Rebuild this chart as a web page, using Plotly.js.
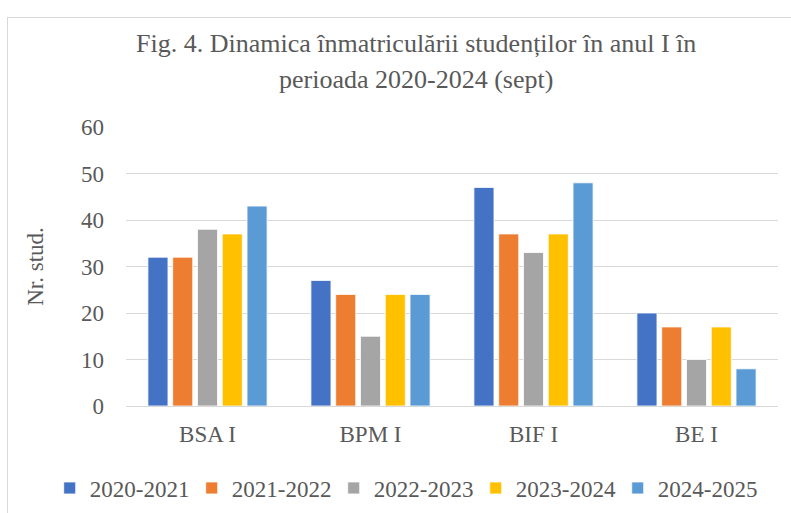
<!DOCTYPE html>
<html>
<head>
<meta charset="utf-8">
<script src="https://cdn.plot.ly/plotly-3.0.1.min.js"></script>
<style>
html,body{margin:0;padding:0;background:#fff;overflow:hidden;}
#chart{width:791px;height:513px;}
#frame{position:absolute;left:7px;top:17px;width:800px;height:520px;border:1px solid #d9d9d9;pointer-events:none;}
</style>
</head>
<body>
<div id="chart"></div>
<div id="frame"></div>
<script>
const categories = ["BSA I", "BPM I", "BIF I", "BE I"];
const seriesNames = ["2020-2021", "2021-2022", "2022-2023", "2023-2024", "2024-2025"];
const s2020 = [32, 27, 47, 20];
const s2021 = [32, 24, 37, 17];
const s2022 = [38, 15, 33, 10];
const s2023 = [37, 24, 37, 17];
const s2024 = [43, 24, 48, 8];
const yTicks = [0, 10, 20, 30, 40, 50, 60];

const colors = ["#4472C4", "#ED7D31", "#A5A5A5", "#FFC000", "#5B9BD5"];
const allSeries = [s2020, s2021, s2022, s2023, s2024];
const font = "Liberation Serif, Times New Roman, serif";
const grey = "#595959";

const traces = allSeries.map((vals, i) => ({
  type: "bar",
  name: seriesNames[i],
  x: categories,
  y: vals,
  marker: {color: colors[i], line: {color: "#ffffff", width: 0.8}},
  hoverinfo: "x+y+name"
}));

const layout = {
  width: 791, height: 513,
  paper_bgcolor: "#ffffff", plot_bgcolor: "#ffffff",
  margin: {l: 126, r: 13, t: 127, b: 107, autoexpand: false},
  barmode: "group",
  bargap: 0.24,
  bargroupgap: 0.19,
  showlegend: true,
  legend: {
    orientation: "h", xref: "paper", yref: "paper",
    x: -0.117, xanchor: "left",
    y: -0.294, yanchor: "middle",
    font: {family: font, size: 23, color: grey},
    itemwidth: 30, tracegroupgap: 0,
    entrywidth: 97, entrywidthmode: "pixels"
  },
  xaxis: {
    type: "category",
    tickfont: {family: font, size: 23, color: grey},
    showgrid: false, showline: false, ticks: "", ticklen: 0,
    ticklabelstandoff: 12,
    automargin: false
  },
  yaxis: {
    range: [0, 60], tickvals: yTicks, ticktext: yTicks.map(String),
    tickfont: {family: font, size: 23, color: grey},
    showgrid: true, gridcolor: "#d9d9d9", gridwidth: 1,
    zeroline: true, zerolinecolor: "#d9d9d9", zerolinewidth: 1,
    showline: false, ticks: "", ticklabelstandoff: 21,
    title: {text: "Nr. stud.", font: {family: font, size: 23, color: grey}, standoff: 30},
    automargin: false
  },
  annotations: [
    {text: "Fig. 4. Dinamica înmatriculării studenților în anul I în", xref: "paper", yref: "paper",
     x: 0.445, y: 1, yshift: 84, xanchor: "center", yanchor: "middle", showarrow: false,
     font: {family: font, size: 26, color: grey}},
    {text: "perioada 2020-2024 (sept)", xref: "paper", yref: "paper",
     x: 0.445, y: 1, yshift: 48, xanchor: "center", yanchor: "middle", showarrow: false,
     font: {family: font, size: 26, color: grey}}
  ]
};

Plotly.newPlot("chart", traces, layout, {displayModeBar: false, staticPlot: true});
</script>
</body>
</html>
